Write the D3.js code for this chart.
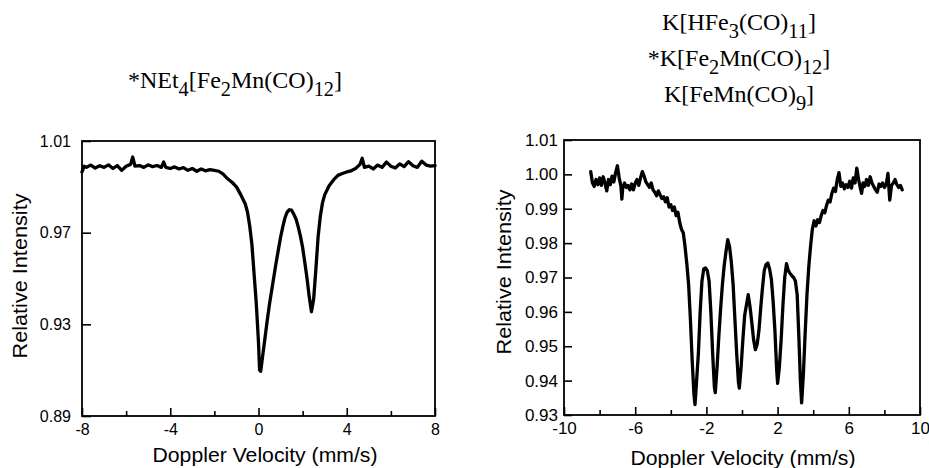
<!DOCTYPE html>
<html>
<head>
<meta charset="utf-8">
<script src="https://cdn.jsdelivr.net/npm/d3@7"></script>
<style>
  html, body { margin: 0; padding: 0; background: #fff; }
  svg { display: block; }
  .tick text { font-family: "Liberation Sans", Arial, sans-serif; fill: #000; }
  .domain { display: none; }
</style>
</head>
<body>
<svg id="chart" width="929" height="468"></svg>
<script>
// ---------- DATA ----------
const leftTitle = ["*NEt_{4}[Fe_{2}Mn(CO)_{12}]"];
const rightTitle = ["K[HFe_{3}(CO)_{11}]", "*K[Fe_{2}Mn(CO)_{12}]", "K[FeMn(CO)_{9}]"];
const xTitle = "Doppler Velocity (mm/s)";
const yTitle = "Relative Intensity";

const leftXMajor = [-8, -4, 0, 4, 8];
const leftXMinor = [-6, -2, 2, 6];
const leftYTicks = [1.01, 0.97, 0.93, 0.89];

const rightXMajor = [-10, -6, -2, 2, 6, 10];
const rightXMinor = [-8, -4, 0, 4, 8];
const rightYTicks = [1.01, 1.00, 0.99, 0.98, 0.97, 0.96, 0.95, 0.94, 0.93];

const leftVelocity = [
  -8.0, -7.9, -7.8, -7.6, -7.4, -7.2, -7.0, -6.8, -6.6, -6.4, -6.2, -6.0, -5.8, -5.7, -5.6,
  -5.4, -5.2, -5.0, -4.8, -4.6, -4.4, -4.3, -4.2, -4.0, -3.8, -3.6, -3.4, -3.2, -3.0, -2.8,
  -2.6, -2.4, -2.2, -2.0, -1.8, -1.6, -1.4, -1.2, -1.0, -0.8, -0.6, -0.5, -0.4, -0.3, -0.2,
  -0.1, 0.0, 0.05, 0.1, 0.2, 0.3, 0.4, 0.5, 0.6, 0.7, 0.8, 0.9, 1.0, 1.1, 1.2,
  1.3, 1.4, 1.5, 1.6, 1.7, 1.8, 1.9, 2.0, 2.1, 2.2, 2.3, 2.4, 2.5, 2.6, 2.7,
  2.8, 2.9, 3.0, 3.2, 3.4, 3.6, 3.8, 4.0, 4.2, 4.4, 4.6, 4.7, 4.8, 5.0, 5.2,
  5.4, 5.6, 5.8, 6.0, 6.2, 6.4, 6.6, 6.8, 7.0, 7.2, 7.4, 7.6, 7.8, 8.0
];
const leftIntensity = [
  0.9965, 0.9990, 0.9985, 0.9995, 0.9982, 0.9992, 0.9985, 0.9996, 0.9980, 0.9993, 0.9972, 0.9990, 0.9998, 1.0030, 0.9990,
  0.9993, 0.9985, 0.9996, 0.9988, 0.9993, 0.9985, 1.0008, 0.9985, 0.9980, 0.9987, 0.9978, 0.9984, 0.9972, 0.9980, 0.9968,
  0.9978, 0.9970, 0.9975, 0.9972, 0.9968, 0.9955, 0.9935, 0.9920, 0.9900, 0.9865, 0.9825, 0.9790, 0.9730, 0.9650, 0.9520,
  0.9390, 0.9220, 0.9100, 0.9095, 0.9170, 0.9245, 0.9320, 0.9390, 0.9450, 0.9510, 0.9570, 0.9625, 0.9680, 0.9725, 0.9765,
  0.9790, 0.9800, 0.9798, 0.9780, 0.9760, 0.9725, 0.9685, 0.9635, 0.9570, 0.9500, 0.9420, 0.9355, 0.9410, 0.9540, 0.9680,
  0.9770, 0.9830, 0.9865, 0.9905, 0.9930, 0.9950, 0.9958, 0.9965, 0.9970, 0.9980, 0.9998, 1.0025, 0.9985, 0.9990, 0.9978,
  0.9995, 0.9985, 1.0008, 0.9990, 0.9982, 1.0000, 0.9988, 1.0010, 0.9992, 0.9985, 1.0012, 0.9995, 0.9990, 0.9993
];

const rightVelocity = [
  -8.5, -8.4, -8.3, -8.2, -8.1, -8.0, -7.9, -7.8, -7.7, -7.6, -7.5, -7.4, -7.3, -7.2, -7.1,
  -7.0, -6.9, -6.8, -6.75, -6.7, -6.6, -6.5, -6.4, -6.3, -6.2, -6.1, -6.0, -5.9, -5.8, -5.7,
  -5.6, -5.5, -5.4, -5.3, -5.2, -5.1, -5.0, -4.9, -4.8, -4.7, -4.6, -4.5, -4.4, -4.3, -4.2,
  -4.1, -4.0, -3.9, -3.8, -3.7, -3.6, -3.5, -3.4, -3.3, -3.2, -3.1, -3.0, -2.9, -2.8, -2.7,
  -2.64, -2.55, -2.45, -2.35, -2.25, -2.15, -2.05, -1.95, -1.85, -1.75, -1.65, -1.55, -1.5, -1.4, -1.3,
  -1.2, -1.1, -1.0, -0.9, -0.8, -0.7, -0.6, -0.5, -0.4, -0.3, -0.2, -0.15, -0.05, 0.05, 0.15,
  0.25, 0.35, 0.45, 0.55, 0.65, 0.75, 0.85, 0.95, 1.05, 1.15, 1.25, 1.35, 1.45, 1.55, 1.65,
  1.75, 1.85, 1.95, 2.0, 2.1, 2.2, 2.3, 2.4, 2.5, 2.6, 2.7, 2.8, 2.9, 3.0, 3.1,
  3.2, 3.28, 3.35, 3.45, 3.55, 3.65, 3.75, 3.85, 3.95, 4.05, 4.15, 4.25, 4.35, 4.45, 4.55,
  4.65, 4.75, 4.85, 4.95, 5.05, 5.15, 5.25, 5.35, 5.45, 5.55, 5.65, 5.75, 5.85, 5.95, 6.05,
  6.15, 6.25, 6.35, 6.45, 6.55, 6.65, 6.72, 6.8, 6.9, 7.0, 7.1, 7.2, 7.3, 7.4, 7.5,
  7.6, 7.7, 7.8, 7.9, 8.0, 8.1, 8.2, 8.3, 8.4, 8.5, 8.6, 8.7, 8.8, 8.9, 9.0
];
const rightIntensity = [
  1.0008, 0.9975, 0.9965, 0.9985, 0.9970, 0.9990, 0.9968, 0.9993, 0.9975, 0.9952, 0.9985, 0.9970, 0.9995, 0.9978, 1.0005,
  1.0025, 0.9990, 0.9965, 0.9928, 0.9960, 0.9975, 0.9962, 0.9968, 0.9955, 0.9972, 0.9955, 0.9975, 0.9985, 0.9968, 0.9990,
  1.0008, 0.9995, 0.9978, 0.9970, 0.9962, 0.9975, 0.9955, 0.9948, 0.9938, 0.9952, 0.9940, 0.9930, 0.9935, 0.9920, 0.9932,
  0.9905, 0.9912, 0.9895, 0.9905, 0.9880, 0.9890, 0.9860, 0.9840, 0.9830, 0.9790, 0.9740, 0.9680, 0.9580, 0.9460, 0.9360,
  0.9330, 0.9400, 0.9480, 0.9600, 0.9690, 0.9725, 0.9728, 0.9720, 0.9690, 0.9600, 0.9480, 0.9380, 0.9365, 0.9440, 0.9530,
  0.9610, 0.9680, 0.9735, 0.9775, 0.9810, 0.9790, 0.9745, 0.9680, 0.9580, 0.9480, 0.9395, 0.9378, 0.9440, 0.9520, 0.9590,
  0.9620, 0.9650, 0.9615, 0.9570, 0.9520, 0.9490, 0.9505, 0.9545, 0.9610, 0.9670, 0.9720, 0.9738, 0.9742, 0.9725, 0.9695,
  0.9630, 0.9545, 0.9430, 0.9392, 0.9440, 0.9520, 0.9620, 0.9700, 0.9740, 0.9720, 0.9712, 0.9705, 0.9700, 0.9690, 0.9650,
  0.9520, 0.9400, 0.9335, 0.9420, 0.9540, 0.9650, 0.9730, 0.9790, 0.9840, 0.9865, 0.9850, 0.9868, 0.9860, 0.9880, 0.9895,
  0.9888, 0.9910, 0.9925, 0.9920, 0.9945, 0.9960, 0.9950, 0.9985, 1.0005, 0.9965, 0.9975, 0.9958, 0.9970, 0.9962, 0.9980,
  0.9960, 0.9990, 0.9975, 1.0018, 0.9985, 0.9960, 0.9945, 0.9975, 0.9965, 0.9985, 0.9968, 0.9993, 0.9975, 0.9965, 0.9955,
  0.9948, 0.9972, 0.9965, 0.9975, 0.9962, 0.9970, 1.0003, 0.9925, 0.9968, 0.9975, 0.9985, 0.9970, 0.9962, 0.9968, 0.9955
];

// ---------- DRAW ----------
const svg = d3.select("#chart");
const sans = '"Liberation Sans", Arial, Helvetica, sans-serif';
const serif = '"Liberation Serif", "Times New Roman", Times, serif';

function drawTitleLine(g, text, x, y, size) {
  const t = g.append("text")
    .attr("x", x).attr("y", y)
    .attr("text-anchor", "middle")
    .attr("font-family", serif)
    .attr("font-size", size)
    .attr("fill", "#000");
  const parts = text.split(/(_\{[^}]*\})/).filter(s => s.length);
  let shifted = false;
  parts.forEach(p => {
    if (p.startsWith("_{")) {
      t.append("tspan").attr("dy", size * 0.32).attr("font-size", size * 0.85).text(p.slice(2, -1));
      shifted = true;
    } else {
      const ts = t.append("tspan");
      if (shifted) { ts.attr("dy", -size * 0.32); shifted = false; }
      ts.text(p);
    }
  });
}

function panel(cfg) {
  const x = d3.scaleLinear().domain(cfg.xDomain).range([cfg.left, cfg.right]);
  const y = d3.scaleLinear().domain(cfg.yDomain).range([cfg.bottom, cfg.top]);
  const g = svg.append("g");

  // minor x ticks (inward)
  g.append("g")
    .attr("transform", `translate(0,${cfg.bottom})`)
    .call(d3.axisBottom(x).tickValues(cfg.xMinor).tickSize(-cfg.minorLen).tickFormat(""))
    .call(s => s.selectAll(".tick line").attr("stroke", "#000").attr("stroke-width", 1.6));
  // major x ticks with labels
  g.append("g")
    .attr("transform", `translate(0,${cfg.bottom})`)
    .call(d3.axisBottom(x).tickValues(cfg.xMajor).tickSize(-cfg.majorLen).tickPadding(cfg.xPad).tickFormat(d => d))
    .call(s => s.selectAll(".tick line").attr("stroke", "#000").attr("stroke-width", 1.6))
    .call(s => s.selectAll(".tick text").attr("font-size", cfg.tickFont).attr("font-family", sans));
  // y ticks
  g.append("g")
    .attr("transform", `translate(${cfg.left},0)`)
    .call(d3.axisLeft(y).tickValues(cfg.yTicks).tickSize(-cfg.yTickLen).tickPadding(cfg.yPad).tickFormat(d3.format(".2f")))
    .call(s => s.selectAll(".tick line").attr("stroke", "#000").attr("stroke-width", 1.6))
    .call(s => s.selectAll(".tick text").attr("font-size", cfg.tickFont).attr("font-family", sans));

  // frame
  g.append("rect")
    .attr("x", cfg.left).attr("y", cfg.top)
    .attr("width", cfg.right - cfg.left).attr("height", cfg.bottom - cfg.top)
    .attr("fill", "none").attr("stroke", "#000").attr("stroke-width", 1.8);

  // spectrum line
  const pts = cfg.vel.map((v, i) => [v, cfg.inten[i]]);
  g.append("path")
    .datum(pts)
    .attr("fill", "none")
    .attr("stroke", "#000")
    .attr("stroke-width", 3.3)
    .attr("stroke-linejoin", "round")
    .attr("stroke-linecap", "round")
    .attr("d", d3.line().x(d => x(d[0])).y(d => y(d[1])));

  // axis titles
  g.append("text")
    .attr("x", cfg.xTitleX).attr("y", cfg.xTitleY)
    .attr("text-anchor", "middle")
    .attr("font-family", sans).attr("font-size", 20)
    .attr("textLength", 225).attr("lengthAdjust", "spacingAndGlyphs")
    .text(xTitle);
  g.append("text")
    .attr("transform", `translate(${cfg.yTitleX},${cfg.yTitleY}) rotate(-90)`)
    .attr("text-anchor", "middle")
    .attr("font-family", sans).attr("font-size", 21)
    .attr("textLength", 165).attr("lengthAdjust", "spacingAndGlyphs")
    .text(yTitle);

  cfg.title.forEach((t, i) => drawTitleLine(g, t, cfg.titleX, cfg.titleY[i], 24));
}

panel({
  xDomain: [-8, 8], yDomain: [0.89, 1.01],
  left: 82, right: 435, top: 141, bottom: 416,
  xMajor: leftXMajor, xMinor: leftXMinor, yTicks: leftYTicks,
  majorLen: 8, minorLen: 5, yTickLen: 9, xPad: 8, yPad: 11, tickFont: 16,
  vel: leftVelocity, inten: leftIntensity,
  xTitleX: 265, xTitleY: 462, yTitleX: 27, yTitleY: 276,
  title: leftTitle, titleX: 235, titleY: [88]
});

panel({
  xDomain: [-10, 10], yDomain: [0.93, 1.01],
  left: 564, right: 920, top: 140, bottom: 415,
  xMajor: rightXMajor, xMinor: rightXMinor, yTicks: rightYTicks,
  majorLen: 8, minorLen: 5, yTickLen: 8, xPad: 7, yPad: 6, tickFont: 17,
  vel: rightVelocity, inten: rightIntensity,
  xTitleX: 743, xTitleY: 465, yTitleX: 511, yTitleY: 272,
  title: rightTitle, titleX: 739, titleY: [30, 66, 102]
});
</script>
</body>
</html>
